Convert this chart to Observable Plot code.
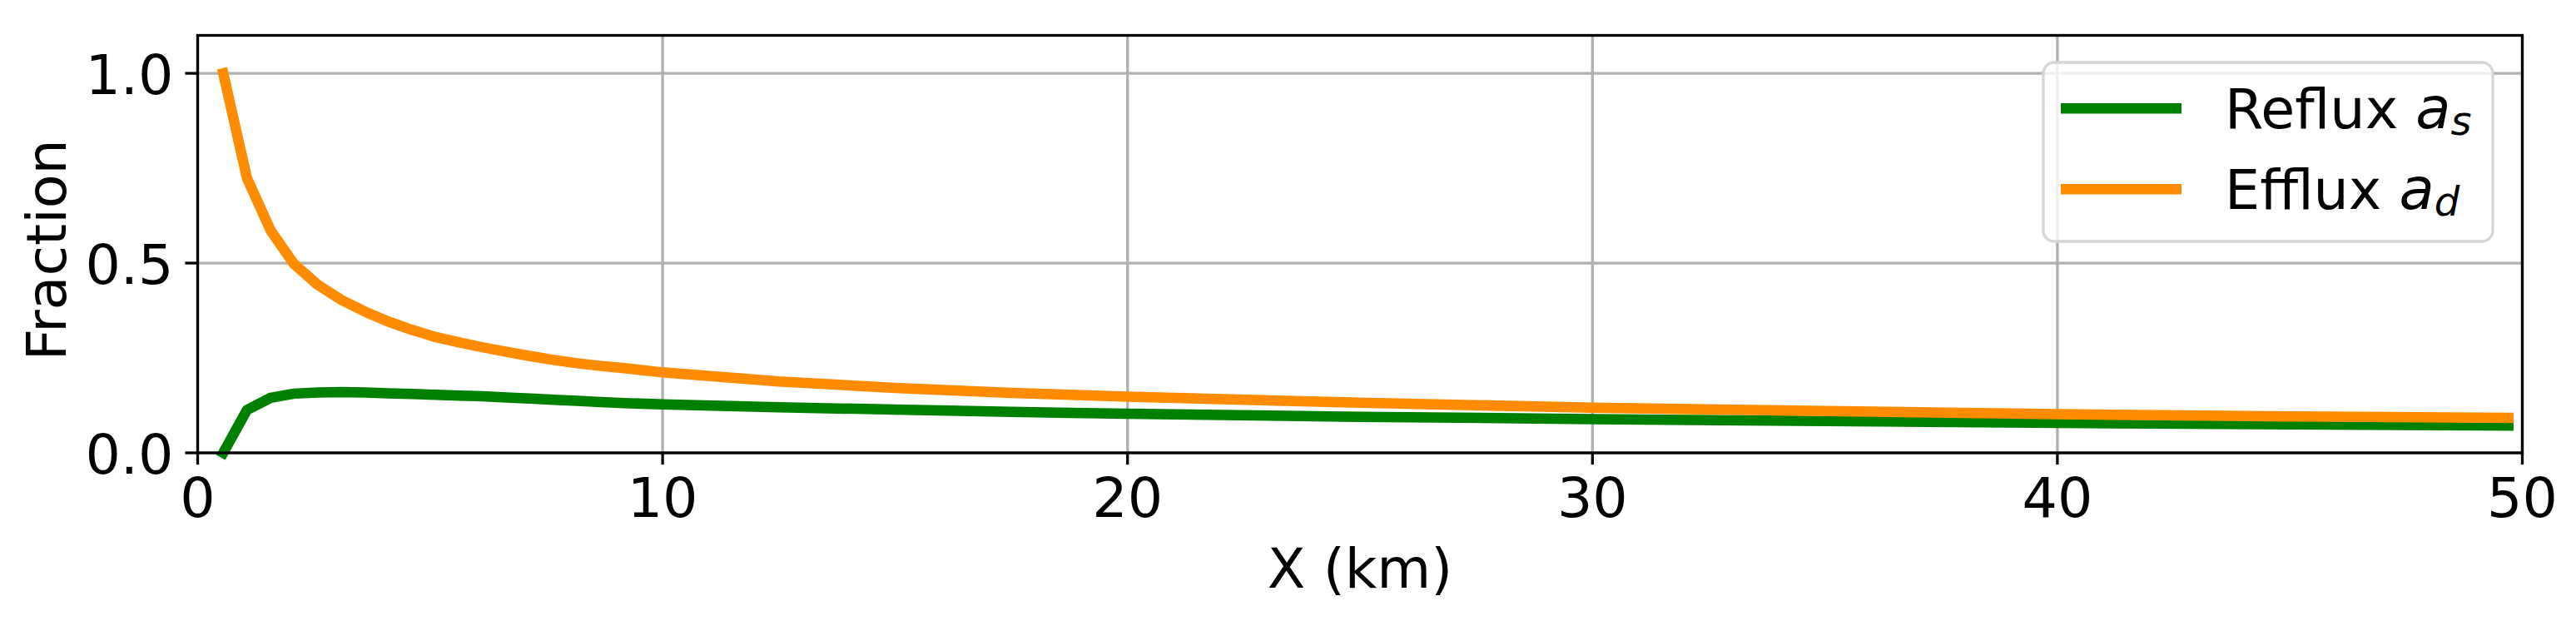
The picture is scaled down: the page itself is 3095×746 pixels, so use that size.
<!DOCTYPE html>
<html><head><meta charset="utf-8">
<script src="https://cdn.jsdelivr.net/npm/d3@7"></script>
<script src="https://cdn.jsdelivr.net/npm/@observablehq/plot@0.6"></script>
<style>html,body{margin:0;padding:0;background:#fff}svg{display:block}</style>
</head><body><div id="chart"></div>
<script>
// ---- data ----
const xKm    = [0.55, 1.06, 1.57, 2.07, 2.58, 3.09, 3.6, 4.1, 4.61, 5.12, 5.63, 6.13, 6.64, 7.15, 7.66, 8.16, 8.67, 9.18, 10, 12.5, 15, 17.5, 20, 25, 30, 35, 40, 45, 49.7];
const reflux = [0.0, 0.113, 0.145, 0.156, 0.159, 0.160, 0.159, 0.157, 0.155, 0.153, 0.151, 0.149, 0.146, 0.143, 0.140, 0.137, 0.134, 0.131, 0.128, 0.120, 0.114, 0.108, 0.103, 0.095, 0.089, 0.084, 0.079, 0.075, 0.072];
const efflux = [1.0, 0.724, 0.586, 0.498, 0.443, 0.403, 0.372, 0.346, 0.324, 0.305, 0.291, 0.278, 0.266, 0.255, 0.245, 0.236, 0.229, 0.223, 0.212, 0.188, 0.171, 0.158, 0.148, 0.132, 0.119, 0.110, 0.102, 0.096, 0.092];
const seriesNames   = ["Reflux", "Efflux"];
const seriesSymbols = [["a", "s"], ["a", "d"]];
const seriesColors  = ["green", "darkorange"];
const xTicks = [0, 10, 20, 30, 40, 50];
const yTicks = [0, 0.5, 1.0];
const xLabel = "X (km)";
const yLabel = "Fraction";

// ---- layout ----
const W = 3095, H = 746;
const mL = 237, mR = 65, mT = 42, mB = 202.5;
const FS = 66.7, LW = 3.3;
const font = "DejaVu Sans";

const seriesValues = [reflux, efflux];
const seriesData = seriesValues.map(vals => xKm.map((x, i) => ({x, y: vals[i]})));

const chart = Plot.plot({
  width: W, height: H,
  marginLeft: mL, marginRight: mR, marginTop: mT, marginBottom: mB,
  style: {fontFamily: font, background: "white", color: "black"},
  x: {domain: [0, 50]},
  y: {domain: [0, 1.1]},
  marks: [
    Plot.gridX(xTicks, {stroke: "#b0b0b0", strokeOpacity: 1, strokeWidth: LW}),
    Plot.gridY(yTicks, {stroke: "#b0b0b0", strokeOpacity: 1, strokeWidth: LW}),
    ...seriesData.map((d, i) => Plot.line(d, {x: "x", y: "y", stroke: seriesColors[i], strokeWidth: 12.5, strokeLinecap: "square", strokeLinejoin: "round"})),
    Plot.frame({stroke: "black", strokeWidth: LW}),
    Plot.axisX(xTicks, {tickSize: 14.6, strokeWidth: LW, tickFormat: () => "", label: null}),
    Plot.axisX(xTicks, {tickSize: 0, tickPadding: 29.6, fontSize: FS, tickFormat: d => String(d), label: null}),
    Plot.axisY(yTicks, {tickSize: 14.6, strokeWidth: LW, tickFormat: () => "", label: null}),
    Plot.axisY(yTicks, {tickSize: 0, tickPadding: 29, fontSize: FS, dy: 4, tickFormat: d => d.toFixed(1), label: null}),
    Plot.text([xLabel], {frameAnchor: "bottom", textAnchor: "middle", lineAnchor: "bottom", dy: 161.5, fontSize: FS}),
    Plot.text([yLabel], {frameAnchor: "left", textAnchor: "middle", lineAnchor: "bottom", rotate: -90, dx: -159, dy: 7, fontSize: FS})
  ]
});

// ---- legend (upper right, inside axes) ----
const svg = d3.select(chart);
const legW = 540, legH = 215;
const legLeft = W - mR - 35 - legW, legTop = mT + 33;
const g = svg.append("g").attr("font-family", font).attr("font-size", FS).attr("text-anchor", "start");
g.append("rect")
  .attr("x", legLeft).attr("y", legTop).attr("width", legW).attr("height", legH)
  .attr("rx", 13).attr("ry", 13)
  .attr("fill", "white").attr("fill-opacity", 0.8)
  .attr("stroke", "#d6d6d6").attr("stroke-width", LW);
seriesNames.forEach((name, i) => {
  const ly = legTop + 55.3 + i * 97;
  g.append("line")
    .attr("x1", legLeft + 21).attr("x2", legLeft + 166)
    .attr("y1", ly).attr("y2", ly)
    .attr("stroke", seriesColors[i]).attr("stroke-width", 12.5).attr("stroke-linecap", "butt");
  const t = g.append("text")
    .attr("x", legLeft + 218).attr("y", ly + 23.5)
    .attr("text-anchor", "start")
    .attr("fill", "black").style("white-space", "pre");
  t.append("tspan").text(name + " ");
  t.append("tspan").attr("font-style", "italic").attr("font-size", 69).text(seriesSymbols[i][0]);
  t.append("tspan").attr("font-style", "italic").attr("font-size", 48).attr("dy", 8).text(seriesSymbols[i][1]);
});

document.getElementById("chart").appendChild(chart);
</script>
</body></html>
